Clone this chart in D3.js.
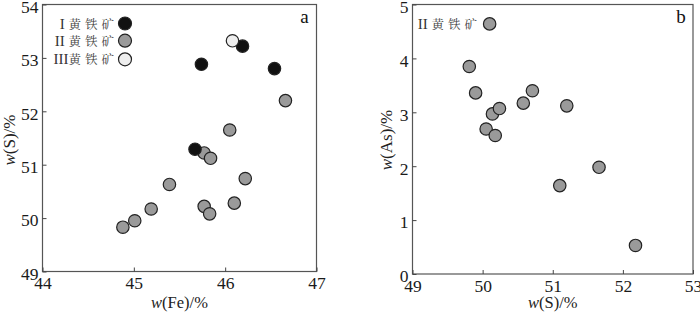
<!DOCTYPE html>
<html><head><meta charset="utf-8">
<script src="https://cdn.jsdelivr.net/npm/d3@7"></script>
<style>
html,body{margin:0;padding:0;background:#fff;}
svg text{font-family:"Liberation Serif","Times New Roman",serif;}
</style></head>
<body><svg id="c" width="700" height="312"></svg>
<script>
// Panel a: w(Fe) vs w(S)
const typeI_Fe = [45.74, 46.19, 46.54, 45.67];
const typeI_S  = [52.88, 53.22, 52.80, 51.29];
const typeII_Fe = [46.66, 46.05, 45.77, 45.84, 45.39, 46.22, 45.19, 45.01, 44.88, 45.77, 45.83, 46.10];
const typeII_S  = [52.20, 51.65, 51.22, 51.12, 50.63, 50.74, 50.17, 49.95, 49.83, 50.22, 50.08, 50.28];
const typeIII_Fe = [46.08];
const typeIII_S  = [53.32];
// Panel b: w(S) vs w(As), type II
const bS  = [50.10, 49.81, 49.90, 50.14, 50.24, 50.05, 50.18, 50.58, 50.71, 51.20, 51.66, 51.10, 52.18];
const bAs = [4.64, 3.85, 3.36, 2.97, 3.07, 2.69, 2.57, 3.17, 3.40, 3.12, 1.98, 1.64, 0.53];
const aXTicks = [44, 45, 46, 47];
const aYTicks = [49, 50, 51, 52, 53, 54];
const bXTicks = [49, 50, 51, 52, 53];
const bYTicks = [0, 1, 2, 3, 4, 5];
const legendA = ["I", "II", "III"];
const legendB = ["II"];
const mineral = "黄铁矿";

const colors = {I:"#111111", II:"#9a9a9a", III:"#eeeeee"};
const svg = d3.select("#c");
const serif = '"Liberation Serif","Times New Roman",serif';

function panel(opt){
  const g = svg.append("g");
  const x = d3.scaleLinear().domain(opt.xd).range([opt.l, opt.r]);
  const y = d3.scaleLinear().domain(opt.yd).range([opt.b, opt.t]);
  g.append("rect").attr("x", opt.l).attr("y", opt.t).attr("width", opt.r-opt.l).attr("height", opt.b-opt.t)
    .attr("fill","none").attr("stroke","#555").attr("stroke-width",1.2);
  const xa = g.append("g").attr("transform",`translate(0,${opt.b})`)
    .call(d3.axisBottom(x).tickValues(opt.xt).tickSize(-4).tickPadding(opt.xpad).tickFormat(d3.format("d")));
  const ya = g.append("g").attr("transform",`translate(${opt.l},0)`)
    .call(d3.axisLeft(y).tickValues(opt.yt).tickSize(-4).tickPadding(4).tickFormat(d3.format("d")));
  [xa, ya].forEach(a=>{
    a.select(".domain").remove();
    a.selectAll(".tick line").attr("stroke","#444").attr("stroke-width",1);
    a.selectAll("text").attr("font-size",17.5).attr("fill","#1a1a1a").style("font-family",serif);
  });
  xa.selectAll("text").attr("dy","0.86em");
  ya.selectAll("text").attr("dy","0.45em");
  const xt = g.append("text").attr("x",(opt.l+opt.r)/2).attr("y",308).attr("text-anchor","middle")
    .attr("font-size",16.5).attr("fill","#222").style("font-family",serif);
  xt.append("tspan").attr("font-style","italic").text("w");
  xt.append("tspan").text(opt.xlab);
  const yt = g.append("text").attr("transform",`translate(${opt.ytx},140) rotate(-90)`).attr("text-anchor","middle")
    .attr("font-size",17).attr("fill","#222").style("font-family",serif);
  yt.append("tspan").attr("font-style","italic").text("w");
  yt.append("tspan").text(opt.ylab);
  g.append("text").attr("x",opt.r-12).attr("y",opt.t+18).attr("text-anchor","middle")
    .attr("font-size",19).attr("fill","#111").style("font-family",serif).text(opt.tag);
  return {g,x,y};
}

function dots(p, xs, ys, fill){
  p.g.append("g").selectAll("circle").data(xs.map((d,i)=>[d,ys[i]])).join("circle")
    .attr("cx",d=>p.x(d[0])).attr("cy",d=>p.y(d[1])).attr("r",6.2)
    .attr("fill",fill).attr("stroke","#222").attr("stroke-width",1.2);
}

const pa = panel({l:42.5,r:316.5,t:4.5,b:271.5,xd:[44,47],yd:[49,54],xt:aXTicks,yt:aYTicks,
  xlab:"(Fe)/%", ylab:"(S)/%", ytx:15, tag:"a", xpad:2});
dots(pa, typeII_Fe, typeII_S, colors.II);
dots(pa, typeI_Fe, typeI_S, colors.I);
dots(pa, typeIII_Fe, typeIII_S, colors.III);

const pb = panel({l:412.5,r:693,t:4.5,b:274,xd:[49,53],yd:[0,5],xt:bXTicks,yt:bYTicks,
  xlab:"(S)/%", ylab:"(As)/%", ytx:392, tag:"b", xpad:2.5});
dots(pb, bS, bAs, colors.II);

function legendText(g, x, y, numeral, sep){
  const t = g.append("text").attr("x",x).attr("y",y).attr("text-anchor","end")
    .attr("font-size",15).attr("fill","#333").style("font-family",serif);
  t.append("tspan").text(numeral + sep);
  t.append("tspan").style("font-family",'"Noto Serif CJK SC","Noto Sans CJK SC",sans-serif').attr("font-size",12.5)
    .attr("letter-spacing",4).attr("fill","#444").text(mineral);
}
const legFills = [colors.I, colors.II, colors.III];
const legYs = [23.5, 40.7, 59.3];
legendA.forEach((n,i)=>{
  legendText(pa.g, 118, legYs[i]+5, n, i<2 ? "  " : "");
  pa.g.append("circle").attr("cx",125).attr("cy",legYs[i]).attr("r",6.5)
    .attr("fill",legFills[i]).attr("stroke","#222").attr("stroke-width",1.2);
});
legendB.forEach(n=>{
  legendText(pb.g, 481, 29, n, "  ");
});
</script></body></html>
